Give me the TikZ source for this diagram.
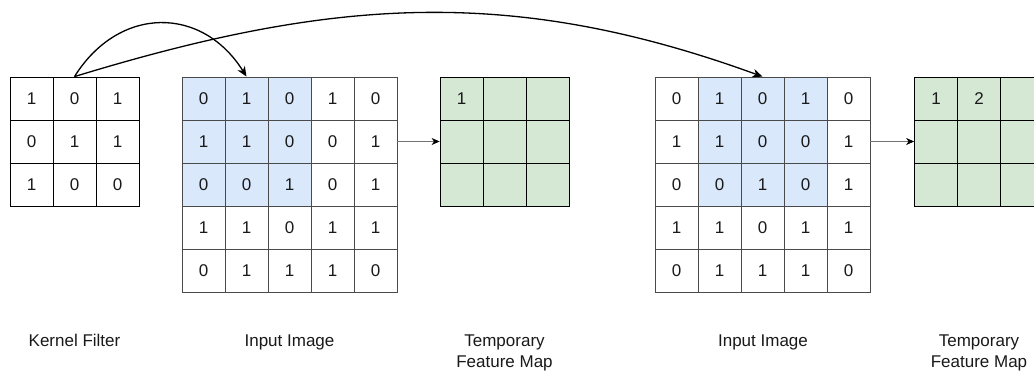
\documentclass[tikz,border=0pt]{standalone}
\usepackage{fontspec}
\setmainfont{Liberation Sans}
\usetikzlibrary{arrows.meta}
\definecolor{winblue}{HTML}{DAE8FC}
\definecolor{mapgreen}{HTML}{D5E8D4}
\definecolor{gridgray}{HTML}{4A4A4A}
\tikzset{
  txt/.style={font=\fontsize{17}{21}\selectfont, text=black!90},
  kcell/.style={txt, draw=black, line width=0.8pt, minimum size=43pt, inner sep=0pt},
  icell/.style={txt, draw=gridgray, line width=0.8pt, minimum size=43pt, inner sep=0pt},
  fcell/.style={txt, draw=black, fill=mapgreen, line width=0.8pt, minimum size=43pt, inner sep=0pt},
  window/.style={fill=winblue, draw=none},
  lbl/.style={txt, inner sep=0pt, anchor=base, align=center},
  slide/.style={line width=1.3pt, -{Stealth[length=10pt,width=8.5pt,inset=3pt]}},
  hop/.style={line width=0.7pt, draw=black!55, -{Stealth[length=8pt,width=7pt,inset=2.5pt,color=black]}}
}
\begin{document}
\begin{tikzpicture}[x=1pt,y=1pt]
\useasboundingbox (0,0) rectangle (1034,-371);
\clip (0,0) rectangle (1034,-371);

% kernel filter, top-left corner at (10,-77)
\foreach \r/\row in {0/{1,0,1},1/{0,1,1},2/{1,0,0}}
  \foreach \v [count=\c from 0] in \row
    \node[kcell] (k-\r-\c) at (10+21.5+43*\c,-77-21.5-43*\r) {\v};

% highlighted windows of the two input images
\fill[window] (182,-77) rectangle ++(129,-129);
\fill[window] (698,-77) rectangle ++(129,-129);

% input images
\foreach \r/\row in {0/{0,1,0,1,0},1/{1,1,0,0,1},2/{0,0,1,0,1},3/{1,1,0,1,1},4/{0,1,1,1,0}}
  \foreach \v [count=\c from 0] in \row {
    \node[icell] (a-\r-\c) at (182+21.5+43*\c,-77-21.5-43*\r) {\v};
    \node[icell] (b-\r-\c) at (655+21.5+43*\c,-77-21.5-43*\r) {\v};
  }

% temporary feature maps
\foreach \r/\row in {0/{1,{},{}},1/{{},{},{}},2/{{},{},{}}}
  \foreach \v [count=\c from 0] in \row
    \node[fcell] (f-\r-\c) at (440+21.5+43*\c,-77-21.5-43*\r) {\v};
\foreach \r/\row in {0/{1,2,{}},1/{{},{},{}},2/{{},{},{}}}
  \foreach \v [count=\c from 0] in \row
    \node[fcell] (g-\r-\c) at (914.5+21.5+43*\c,-77-21.5-43*\r) {\v};

% kernel placement arrows
\draw[slide] (k-0-1.north) to[out=58,in=122,looseness=1.25] (a-0-1.north);
\draw[slide] (k-0-1.north) to[out=17,in=160] (b-0-2.north);

% input to feature map
\draw[hop] (a-1-4.east) -- (f-1-0.west);
\draw[hop] (b-1-4.east) -- (g-1-0.west);

% captions (two-line captions sit on the baseline of their last line)
\node[lbl] (kl) at (74.5,-347) {Kernel Filter};
\node[lbl] (il1) at (289.5,-347) {Input Image};
\node[lbl] (fl1) at (504.5,-368) {Temporary\\Feature Map};
\node[lbl] (il2) at (763,-347) {Input Image};
\node[lbl] (fl2) at (979,-368) {Temporary\\Feature Map};
\end{tikzpicture}
\end{document}
